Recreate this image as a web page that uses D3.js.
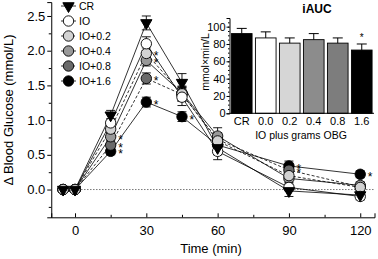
<!DOCTYPE html>
<html><head><meta charset="utf-8">
<script src="https://cdn.jsdelivr.net/npm/d3@7"></script>
<style>body{margin:0;background:#fff;} svg{display:block;font-family:"Liberation Sans",Arial,sans-serif;}</style>
</head><body><svg id="c" width="378" height="259"></svg>
<script>
const times = [-5, 0, 15, 30, 45, 60, 90, 120];
const seriesNames = ["CR", "IO", "IO+0.2", "IO+0.4", "IO+0.8", "IO+1.6"];
const CR   = [0, 0, 1.07, 2.40, 1.54, 0.60, -0.02, -0.08];
const IO   = [0, 0, 0.96, 2.10, 1.33, 0.55, 0.03, -0.10];
const IO02 = [0, 0, 0.87, 1.96, 1.38, 0.70, 0.20, 0.03];
const IO04 = [0, 0, 0.76, 1.86, 1.39, 0.77, 0.16, 0.06];
const IO08 = [0, 0, 0.64, 1.60, 1.37, 0.72, 0.28, 0.04];
const IO16 = [0, 0, 0.55, 1.26, 1.05, 0.64, 0.34, 0.22];
const errCR   = [0, 0, 0.07, 0.10, 0.13, 0.10, 0.08, 0.05];
const errIO   = [0, 0, 0.06, 0.10, 0.12, 0.12, 0.05, 0.05];
const errIO02 = [0, 0, 0.06, 0.08, 0.10, 0.10, 0.06, 0.05];
const errIO04 = [0, 0, 0.06, 0.08, 0.10, 0.12, 0.06, 0.05];
const errIO08 = [0, 0, 0.06, 0.08, 0.10, 0.10, 0.06, 0.05];
const errIO16 = [0, 0, 0.05, 0.07, 0.07, 0.08, 0.07, 0.05];
const xTicks = [0, 30, 60, 90, 120];
const yTicks = [0.0, 0.5, 1.0, 1.5, 2.0, 2.5];
// significance stars: [series index, time]
const stars = [[3,15],[4,15],[5,15],[2,30],[3,30],[4,30],[5,30],[5,45],[4,90],[5,90],[5,120]];
// inset
const barCats = ["CR", "0.0", "0.2", "0.4", "0.8", "1.6"];
const barVals = [92, 87, 81, 85, 81, 73];
const barErrs = [6, 7, 6, 7, 6, 7];
const barTicks = [0, 20, 40, 60, 80, 100];
const barStars = ["1.6"];

const vals = [CR, IO, IO02, IO04, IO08, IO16];
const errs = [errCR, errIO, errIO02, errIO04, errIO08, errIO16];
const fills = ["#000", "#fff", "#d2d2d2", "#999", "#6a6a6a", "#000"];
const dashes = [null, null, "3,2", null, "3,2", null];
const barFills = ["#000", "#fff", "#d6d6d6", "#8c8c8c", "#7d7d7d", "#000"];

const svg = d3.select("#c");
const x = d3.scaleLinear().domain([-10, 126]).range([51.25, 374.5]);
const y = d3.scaleLinear().domain([-0.4, 2.7]).range([217.3, 2.1]);

// zero dotted line
svg.append("line").attr("x1", x(0)).attr("x2", x(126)).attr("y1", y(0)).attr("y2", y(0))
  .attr("stroke", "#777").attr("stroke-dasharray", "1.5,1.5").attr("stroke-width", 1);

// axes
const yAx = svg.append("g").attr("transform", `translate(${x(-10)},0)`)
  .call(d3.axisLeft(y).tickValues(yTicks).tickFormat(d3.format(".1f")).tickSize(4).tickPadding(2));
svg.append("g").attr("transform", `translate(${x(-10)},0)`)
  .call(d3.axisLeft(y).tickValues(d3.range(-0.25, 2.7, 0.5)).tickFormat("").tickSize(2.5))
  .call(g => g.select(".domain").remove());
const xAx = svg.append("g").attr("transform", `translate(0,${y(-0.4)})`)
  .call(d3.axisBottom(x).tickValues(xTicks).tickSize(-4).tickPadding(6));
svg.append("g").attr("transform", `translate(0,${y(-0.4)})`)
  .call(d3.axisBottom(x).tickValues([15,45,75,105]).tickFormat("").tickSize(-2.5))
  .call(g => g.select(".domain").remove());
[yAx, xAx].forEach(g => {
  g.selectAll("text").attr("font-size", 13).attr("fill", "#000").attr("font-family", "Liberation Sans, Arial");
  g.select(".domain").attr("stroke", "#000");
});
xAx.selectAll(".tick text").attr("dy", "0.9em");

// axis labels
svg.append("text").attr("x", 211).attr("y", 253).attr("text-anchor", "middle").attr("font-size", 13).text("Time (min)");
svg.append("text").attr("transform", "translate(13,110) rotate(-90)").attr("text-anchor", "middle")
  .attr("font-size", 13).text("Δ Blood Glucose (mmol/L)");

// lines
const line = d3.line().x(d => x(d[0])).y(d => y(d[1]));
vals.forEach((v, i) => {
  const pts = times.map((t, j) => [t, v[j]]).filter(d => d[0] >= 0);
  svg.append("path").attr("d", line(pts)).attr("fill", "none").attr("stroke", "#000")
    .attr("stroke-width", 0.8).attr("stroke-dasharray", dashes[i]);
});
// error bars
vals.forEach((v, i) => {
  times.forEach((t, j) => {
    const e = errs[i][j]; if (!e) return;
    const g = svg.append("g").attr("stroke", "#000").attr("stroke-width", 0.9);
    g.append("line").attr("x1", x(t)).attr("x2", x(t)).attr("y1", y(v[j] - e)).attr("y2", y(v[j] + e));
    [v[j] - e, v[j] + e].forEach(yy => g.append("line").attr("x1", x(t) - 4.5).attr("x2", x(t) + 4.5).attr("y1", y(yy)).attr("y2", y(yy)));
  });
});
// markers (draw in reverse so CR on top)
const tri = d3.symbol().type(d3.symbolTriangle).size(55);
function marker(g, i, cx, cy) {
  if (i === 0) {
    g.append("path").attr("d", tri()).attr("transform", `translate(${cx},${cy}) rotate(180)`)
      .attr("fill", "#000").attr("stroke", "#000");
  } else {
    g.append("circle").attr("cx", cx).attr("cy", cy).attr("r", 5.2)
      .attr("fill", fills[i]).attr("stroke", "#000").attr("stroke-width", 0.9);
  }
}
[5,4,3,2,1,0].forEach(i => {
  times.forEach((t, j) => marker(svg, i, x(t), y(vals[i][j])));
});
// stars
stars.forEach(([i, t]) => {
  const j = times.indexOf(t);
  svg.append("text").attr("x", x(t) + 7.5).attr("y", y(vals[i][j]) + 7).attr("font-size", 12).text("*");
});

// legend
seriesNames.forEach((n, i) => {
  const ly = 6 + i * 15;
  svg.append("line").attr("x1", 61).attr("x2", 76).attr("y1", ly).attr("y2", ly)
    .attr("stroke", "#000").attr("stroke-width", 0.8).attr("stroke-dasharray", dashes[i] ? "2,2" : null);
  marker(svg, i, 68.5, ly);
  svg.append("text").attr("x", 79).attr("y", ly + 3.8).attr("font-size", 10.5).text(n);
});

// inset
const bx = d3.scaleBand().domain(barCats).range([229.5, 374]).paddingInner(0.14).paddingOuter(0.08);
const by = d3.scaleLinear().domain([0, 110]).range([113.3, 18]);
svg.selectAll(".bar").data(barCats).enter().append("rect")
  .attr("x", d => bx(d)).attr("width", bx.bandwidth())
  .attr("y", (d, i) => by(barVals[i])).attr("height", (d, i) => by(0) - by(barVals[i]))
  .attr("fill", (d, i) => barFills[i]).attr("stroke", "#000").attr("stroke-width", 0.9);
barCats.forEach((c, i) => {
  const cx = bx(c) + bx.bandwidth() / 2;
  svg.append("line").attr("x1", cx).attr("x2", cx).attr("y1", by(barVals[i])).attr("y2", by(barVals[i] + barErrs[i])).attr("stroke", "#000");
  svg.append("line").attr("x1", cx - 5).attr("x2", cx + 5).attr("y1", by(barVals[i] + barErrs[i])).attr("y2", by(barVals[i] + barErrs[i])).attr("stroke", "#000");
});
barStars.forEach(c => {
  const i = barCats.indexOf(c);
  svg.append("text").attr("x", bx(c) + bx.bandwidth() / 2).attr("y", by(barVals[i] + barErrs[i]) - 3.3)
    .attr("text-anchor", "middle").attr("font-size", 10).text("*");
});
const iy = svg.append("g").attr("transform", "translate(229.5,0)")
  .call(d3.axisLeft(by).tickValues(barTicks).tickSize(3).tickPadding(1));
svg.append("g").attr("transform", "translate(229.5,0)")
  .call(d3.axisLeft(by).tickValues(d3.range(5, 110, 5)).tickFormat("").tickSize(1.5))
  .call(g => g.select(".domain").remove());
const ix = svg.append("g").attr("transform", `translate(0,${by(0)})`)
  .call(d3.axisBottom(bx).tickSize(0).tickPadding(4));
ix.select(".domain").attr("d", `M229.5,0H374`);
[iy, ix].forEach(g => {
  g.selectAll("text").attr("font-size", 11).attr("fill", "#000").attr("font-family", "Liberation Sans, Arial");
  g.select(".domain").attr("stroke", "#000");
});
svg.append("text").attr("x", 301).attr("y", 139).attr("text-anchor", "middle").attr("font-size", 10.5).text("IO plus grams OBG");
svg.append("text").attr("x", 317).attr("y", 13).attr("text-anchor", "middle").attr("font-size", 12).attr("font-weight", "bold").text("iAUC");
svg.append("text").attr("transform", "translate(209,62) rotate(-90)").attr("text-anchor", "middle").attr("font-size", 10.5).text("mmol×min/L");
</script></body></html>
